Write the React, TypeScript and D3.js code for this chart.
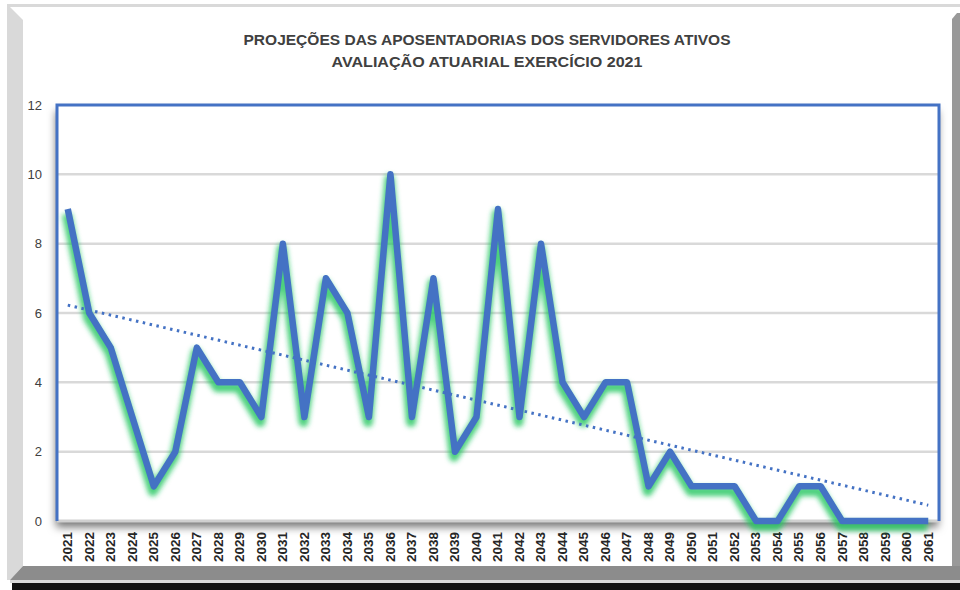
import React from "react";
import * as d3 from "d3";

// dados
const anos = [
  "2021", "2022", "2023", "2024", "2025", "2026", "2027", "2028", "2029", "2030",
  "2031", "2032", "2033", "2034", "2035", "2036", "2037", "2038", "2039", "2040",
  "2041", "2042", "2043", "2044", "2045", "2046", "2047", "2048", "2049", "2050",
  "2051", "2052", "2053", "2054", "2055", "2056", "2057", "2058", "2059", "2060",
  "2061",
];
const aposentadorias = [
  9, 6, 5, 3, 1, 2, 5, 4, 4, 3,
  8, 3, 7, 6, 3, 10, 3, 7, 2, 3,
  9, 3, 8, 4, 3, 4, 4, 1, 2, 1,
  1, 1, 0, 0, 1, 1, 0, 0, 0, 0,
  0,
];
const yTicks = [0, 2, 4, 6, 8, 10, 12];
const titulo = [
  "PROJEÇÕES DAS APOSENTADORIAS DOS SERVIDORES ATIVOS",
  "AVALIAÇÃO ATUARIAL EXERCÍCIO 2021",
];

const W = 960;
const H = 590;
const plot = { left: 57, right: 939, top: 105, bottom: 521 };
const azul = "#4472C4";

export default function App() {
  const x = d3.scaleBand().domain(anos).range([plot.left, plot.right]);
  const y = d3.scaleLinear().domain([0, 12]).range([plot.bottom, plot.top]);
  const cx = (a: string) => (x(a) as number) + x.bandwidth() / 2;

  const linha = d3
    .line<number>()
    .x((_, i) => cx(anos[i]))
    .y((d) => y(d));

  // linha de tendência linear (mínimos quadrados)
  const n = aposentadorias.length;
  const mx = d3.mean(aposentadorias, (_, i) => i) as number;
  const my = d3.mean(aposentadorias) as number;
  let sxy = 0;
  let sxx = 0;
  aposentadorias.forEach((v, i) => {
    sxy += (i - mx) * (v - my);
    sxx += (i - mx) * (i - mx);
  });
  const slope = sxy / sxx;
  const tendencia = [0, n - 1].map((i) => ({ i, v: my + slope * (i - mx) }));

  return (
    <div style={{ position: "fixed", left: 0, top: 0 }}>
      <svg width={W} height={H} style={{ display: "block" }}>
        <defs>
          <filter id="sombra" x="-5%" y="-5%" width="110%" height="115%">
            <feDropShadow dx="-1" dy="6" stdDeviation="4" floodColor="#000" floodOpacity="0.55" />
          </filter>
          <filter id="brilho" x="-5%" y="-10%" width="110%" height="120%">
            <feGaussianBlur stdDeviation="2.4" />
          </filter>
        </defs>

        <rect x={0} y={0} width={W} height={H} fill="#fff" />

        {/* moldura */}
        <rect x={7} y={4} width={953} height={3} fill="#d9d9d9" />
        <polygon points="7,7 10,7 23,20 23,566 10,580 7,580" fill="#d9d9d9" />
        <polygon points="952,19 957,13 960,13 960,580 952,580" fill="#999" />
        <polygon points="23,566 960,566 960,580 10,580" fill="#8c8c8c" />
        <rect x={10} y={580} width={950} height={3} fill="#d9d9d9" />
        <rect x={12} y={583} width={948} height={7} fill="#111" />

        {/* título */}
        {titulo.map((t, i) => (
          <text
            key={t}
            x={487}
            y={45 + i * 22}
            textAnchor="middle"
            fontFamily="'Liberation Sans Narrow', 'Liberation Sans', Arial, sans-serif"
            fontWeight="bold"
            fontSize={14}
            fill="#404040"
            textLength={i === 0 ? 487 : 311}
            lengthAdjust="spacingAndGlyphs"
          >
            {t}
          </text>
        ))}

        {/* área do gráfico */}
        <rect
          x={plot.left}
          y={plot.top}
          width={plot.right - plot.left}
          height={plot.bottom - plot.top}
          fill="#fff"
          filter="url(#sombra)"
        />
        {yTicks
          .filter((t) => t > 0 && t < 12)
          .map((t) => (
            <line
              key={t}
              x1={plot.left}
              x2={plot.right}
              y1={y(t)}
              y2={y(t)}
              stroke="#d9d9d9"
              strokeWidth={2.5}
            />
          ))}
        <line x1={plot.left} x2={plot.right} y1={plot.bottom} y2={plot.bottom} stroke="#d0d0d0" strokeWidth={3} />
        <path
          d={`M${plot.left},${plot.bottom}V${plot.top}H${plot.right}V${plot.bottom}`}
          fill="none"
          stroke={azul}
          strokeWidth={3}
        />

        {/* eixo y */}
        {yTicks.map((t) => (
          <text
            key={t}
            x={42}
            y={y(t)}
            dy="0.35em"
            textAnchor="end"
            fontFamily="'Liberation Sans', Arial, sans-serif"
            fontSize={13}
            fill="#404040"
          >
            {t}
          </text>
        ))}

        {/* eixo x */}
        {anos.map((a) => (
          <text
            key={a}
            transform={`translate(${cx(a)},532) rotate(-90)`}
            dy="0.36em"
            textAnchor="end"
            fontFamily="'Liberation Sans Narrow', 'Liberation Sans', Arial, sans-serif"
            fontWeight="bold"
            fontSize={12}
            fill="#262626"
            textLength={30}
            lengthAdjust="spacingAndGlyphs"
          >
            {a}
          </text>
        ))}

        {/* série */}
        <path
          d={linha(aposentadorias) || ""}
          fill="none"
          stroke="#22c55e"
          strokeOpacity={0.8}
          strokeWidth={10}
          strokeLinejoin="round"
          transform="translate(-1,5)"
          filter="url(#brilho)"
        />
        <path
          d={linha(aposentadorias) || ""}
          fill="none"
          stroke={azul}
          strokeWidth={6.5}
          strokeLinejoin="round"
        />

        {/* tendência */}
        <line
          x1={cx(anos[tendencia[0].i])}
          y1={y(tendencia[0].v)}
          x2={cx(anos[tendencia[1].i])}
          y2={y(tendencia[1].v)}
          stroke={azul}
          strokeWidth={3}
          strokeDasharray="2.5 4.5"
        />
      </svg>
    </div>
  );
}
